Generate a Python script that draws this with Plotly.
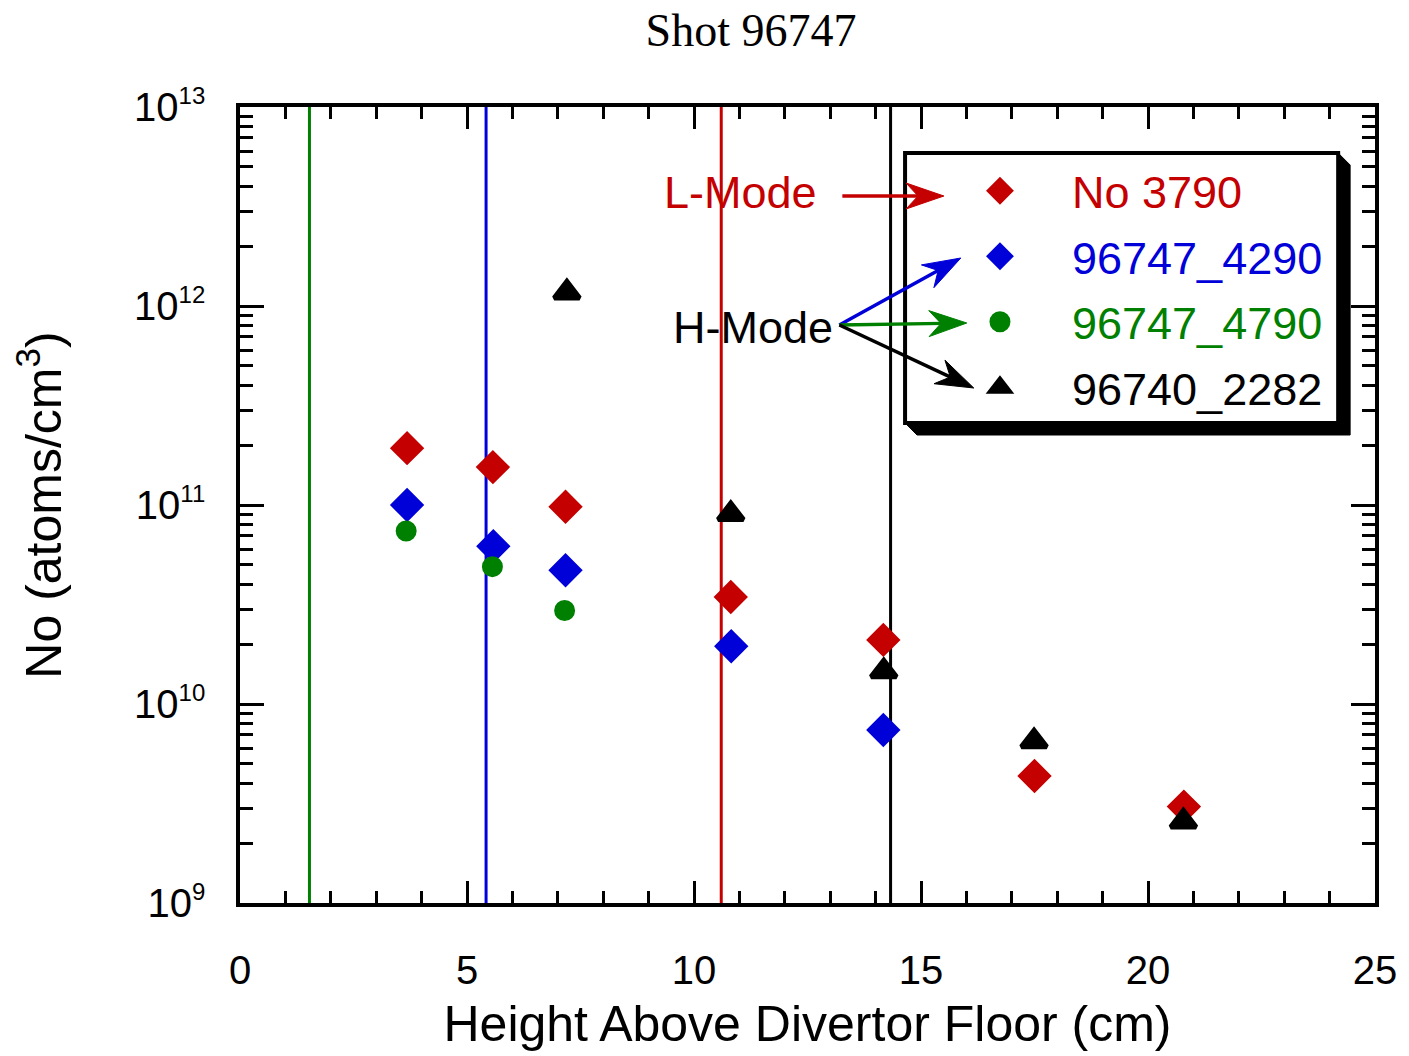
import math
import plotly.graph_objects as go

# ---- data ----
red_x = [3.68, 5.57, 7.17, 10.81, 14.17, 17.5, 20.79]
red_y = [1.93e11, 1.55e11, 9.8e10, 3.45e10, 2.1e10, 4.35e9, 3.05e9]

blue_x = [3.68, 5.58, 7.17, 10.82, 14.17]
blue_y = [1.0e11, 6.2e10, 4.7e10, 1.95e10, 7.4e9]

green_x = [3.66, 5.56, 7.15]
green_y = [7.4e10, 4.9e10, 2.95e10]

black_x = [7.2, 10.81, 14.18, 17.49, 20.78]
black_y = [1.17e12, 9.0e10, 1.46e10, 6.5e9, 2.57e9]

vline_x = [1.53, 5.42, 10.6, 14.33]
series_names = ["No 3790", "96747_4290", "96747_4790", "96740_2282"]

y_exponents = [9, 10, 11, 12, 13]

RED = "#C40000"
BLUE = "#0000D8"
GREEN = "#008000"
BLACK = "#000000"
vline_colors = [GREEN, BLUE, RED, BLACK]

SANS = "Liberation Sans, Arial, Helvetica, sans-serif"
SERIF = "Liberation Serif, Times New Roman, serif"

# plot-area pixel frame (used only to convert layout positions to paper units)
L, R, T, B = 240, 1380, 107, 903
def px(xp):
    return (xp - L) / (R - L)
def py(yp):
    return (B - yp) / (B - T)

fig = go.Figure()

def add_series(x, y, name, color, symbol, size):
    fig.add_trace(go.Scatter(
        x=x, y=y, mode="markers",
        name=f"<span style='color:{color}'>{name}</span>",
        legendgroup=name,
        marker=dict(symbol=symbol, size=size, color=color,
                    line=dict(color=color, width=5)),
    ))

add_series(red_x, red_y, series_names[0], RED, "diamond", 21)
add_series(blue_x, blue_y, series_names[1], BLUE, "diamond", 21)
add_series(green_x, green_y, series_names[2], GREEN, "circle", 16)
add_series(black_x, black_y, series_names[3], BLACK, "triangle-up", 22)

shapes = []
for xv, c in zip(vline_x, vline_colors):
    shapes.append(dict(type="line", xref="x", yref="paper", x0=xv, x1=xv,
                       y0=0, y1=1, line=dict(color=c, width=3), layer="below"))

# legend frame: drop shadow + white box with black border
bx0, by0, bx1, by1, off = 908, 153, 1343, 423, 12
shadow = (f"M {px(bx0)},{py(by1)} L {px(bx1)},{py(by1)} L {px(bx1)},{py(by0)} "
          f"L {px(bx1 + off)},{py(by0 + off)} L {px(bx1 + off)},{py(by1 + off)} "
          f"L {px(bx0 + off)},{py(by1 + off)} Z")
shapes.append(dict(type="path", xref="paper", yref="paper", path=shadow,
                   fillcolor="black", line=dict(color="black", width=1),
                   layer="above"))
shapes.append(dict(type="rect", xref="paper", yref="paper",
                   x0=px(bx0), x1=px(bx1), y0=py(by1), y1=py(by0),
                   fillcolor="white", line=dict(color="black", width=4),
                   layer="above"))

# pointer arrows (tail -> head, layout pixels), drawn as line + notched head
arrows = [
    (845, 196, 947, 196, RED),
    (842, 325, 964, 258, BLUE),
    (842, 325, 970, 323, GREEN),
    (842, 325, 977, 388, BLACK),
]
HEAD_LEN, HEAD_HALF, NOTCH = 38, 13, 26
for tx, ty, hx, hy, c in arrows:
    d = math.hypot(hx - tx, hy - ty)
    ux, uy = (hx - tx) / d, (hy - ty) / d
    vx, vy = -uy, ux
    nx, ny = hx - NOTCH * ux, hy - NOTCH * uy
    shapes.append(dict(type="line", xref="paper", yref="paper",
                       x0=px(tx), y0=py(ty), x1=px(nx + 2 * ux), y1=py(ny + 2 * uy),
                       line=dict(color=c, width=3.5), layer="above"))
    bxp, byp = hx - HEAD_LEN * ux, hy - HEAD_LEN * uy
    c1 = (bxp + HEAD_HALF * vx, byp + HEAD_HALF * vy)
    c2 = (bxp - HEAD_HALF * vx, byp - HEAD_HALF * vy)
    head = (f"M {px(hx)},{py(hy)} L {px(c1[0])},{py(c1[1])} "
            f"L {px(nx)},{py(ny)} L {px(c2[0])},{py(c2[1])} Z")
    shapes.append(dict(type="path", xref="paper", yref="paper", path=head,
                       fillcolor=c, line=dict(color=c, width=1), layer="above"))

annotations = [
    dict(text="L-Mode", xref="paper", yref="paper", x=px(743), y=py(192),
         xanchor="center", yanchor="middle",
         showarrow=False, font=dict(family=SANS, size=45, color=RED)),
    dict(text="H-Mode", xref="paper", yref="paper", x=px(755), y=py(327),
         xanchor="center", yanchor="middle",
         showarrow=False, font=dict(family=SANS, size=45, color=BLACK)),
]

axis_common = dict(
    showline=True, linewidth=3.5, linecolor="black", mirror="ticks",
    ticks="inside", tickwidth=3, tickcolor="black", showgrid=False,
    zeroline=False,
    tickfont=dict(family=SANS, size=40, color="black"),
)

fig.update_layout(
    width=1409, height=1056,
    margin=dict(l=L, r=1409 - R, t=T, b=1056 - B),
    paper_bgcolor="white", plot_bgcolor="white",
    title=dict(text="Shot 96747", x=0.533, xanchor="center", y=0.972,
               yanchor="middle",
               font=dict(family=SERIF, size=46, color="black")),
    xaxis=dict(range=[0, 25], tick0=0, dtick=5, ticklen=22,
               minor=dict(ticks="inside", dtick=1, ticklen=12, tickwidth=3,
                          tickcolor="black", showgrid=False),
               ticklabelstandoff=29,
               title=dict(text="Height Above Divertor Floor (cm)", standoff=16,
                          font=dict(family=SANS, size=50, color="black")),
               **axis_common),
    yaxis=dict(type="log", range=[9, 13], tickmode="array",
               tickvals=[10.0 ** e for e in y_exponents],
               ticktext=[f"10<sup><span style='font-size:24px'>{e}</span></sup>"
                         for e in y_exponents],
               ticklen=24,
               minor=dict(ticks="inside", dtick="D1", ticklen=13, tickwidth=3,
                          tickcolor="black", showgrid=False),
               ticklabelstandoff=23,
               title=dict(text="No (atoms/cm<sup>3</sup>)", standoff=58,
                          font=dict(family=SANS, size=50, color="black")),
               **axis_common),
    showlegend=True,
    legend=dict(x=px(931), y=py(155), xanchor="left", yanchor="top",
                bgcolor="rgba(0,0,0,0)", borderwidth=0,
                font=dict(family=SANS, size=45, color="black"),
                itemwidth=134, tracegroupgap=4, itemsizing="trace"),
    shapes=shapes,
    annotations=annotations,
)

fig.write_html("out.html")
